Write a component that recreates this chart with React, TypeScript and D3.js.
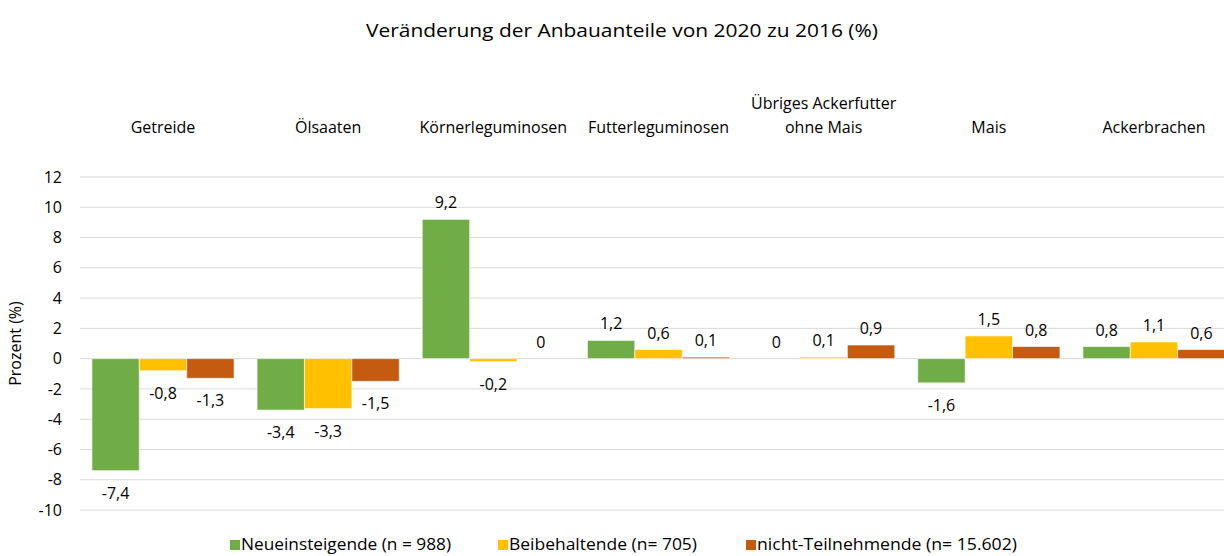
import React from "react";
import * as d3 from "d3";

const categories = ["Getreide", "Ölsaaten", "Körnerleguminosen", "Futterleguminosen", "Übriges Ackerfutter\nohne Mais", "Mais", "Ackerbrachen"];
const seriesNames = ["Neueinsteigende (n = 988)", "Beibehaltende (n= 705)", "nicht-Teilnehmende (n= 15.602)"];
const neueinsteigende = [-7.4, -3.4, 9.2, 1.2, 0, -1.6, 0.8];
const beibehaltende = [-0.8, -3.3, -0.2, 0.6, 0.1, 1.5, 1.1];
const nichtTeilnehmende = [-1.3, -1.5, 0, 0.1, 0.9, 0.8, 0.6];
const yTicks = [12, 10, 8, 6, 4, 2, 0, -2, -4, -6, -8, -10];
const colors = ["#70AD47", "#FFC000", "#C55A11"];

const W = 1224, H = 556;
const FONT = "'Open Sans', Lato, sans-serif";
const FS = 16;

export default function App() {
  const series = [neueinsteigende, beibehaltende, nichtTeilnehmende];
  const x0 = d3.scaleBand<string>().domain(categories).range([80.4, 80.4 + 7 * 165.17]).padding(0);
  const bw = x0.bandwidth();
  const x1 = d3.scaleBand<string>().domain(seriesNames).range([11.5, bw - 11.5]).padding(0);
  const y = d3.scaleLinear().domain([-10, 12]).range([510, 177]);
  const fmt = (v: number) => String(v).replace(".", ",");
  const legendX = [230, 498, 746];
  const legendW = [210, 188, 260];

  return (
    <svg width={W} height={H} style={{ position: "absolute", left: 0, top: 0, background: "#fff" }} fontFamily={FONT}>
      <text x={622} y={37} textAnchor="middle" fontSize={19} fill="#000" textLength={512} lengthAdjust="spacingAndGlyphs">Veränderung der Anbauanteile von 2020 zu 2016 (%)</text>
      {yTicks.map((t) => (
        <g key={t}>
          <line x1={80} x2={W} y1={y(t)} y2={y(t)} stroke="#d9d9d9" strokeWidth={1} />
          <text x={62} y={y(t)} dy="0.35em" textAnchor="end" fontSize={FS} fill="#000">{t}</text>
        </g>
      ))}
      <text transform={`translate(21,${y(1)}) rotate(-90)`} textAnchor="middle" fontSize={FS} fill="#000">Prozent (%)</text>
      {categories.map((c) => {
        const lines = c.split("\n");
        const cx = (x0(c) as number) + bw / 2;
        return (
          <text key={c} x={cx} textAnchor="middle" fontSize={FS} fill="#000">
            {lines.map((l, i) => (
              <tspan key={i} x={cx} y={133 - (lines.length - 1 - i) * 24}>{l}</tspan>
            ))}
          </text>
        );
      })}
      {series.map((vals, si) =>
        vals.map((v, ci) => {
          const bx = (x0(categories[ci]) as number) + (x1(seriesNames[si]) as number);
          const top = y(Math.max(0, v));
          const h = Math.abs(y(v) - y(0));
          const lx = bx + x1.bandwidth() / 2;
          const ly = v >= 0 ? y(v) - 11 : y(v) + 28;
          return (
            <g key={`${si}-${ci}`}>
              <rect x={bx} y={top} width={x1.bandwidth()} height={Math.max(h, 0)} fill={colors[si]} stroke="#fff" strokeOpacity={0.6} strokeWidth={1} />
              <text x={lx} y={ly} textAnchor="middle" fontSize={FS} fill="#000">{fmt(v)}</text>
            </g>
          );
        })
      )}
      {seriesNames.map((s, i) => {
        const lx = legendX[i];
        return (
          <g key={s}>
            <rect x={lx} y={540} width={10} height={10} fill={colors[i]} />
            <text x={lx + 11} y={550} fontSize={FS} fill="#000" textLength={legendW[i]} lengthAdjust="spacingAndGlyphs">{s}</text>
          </g>
        );
      })}
    </svg>
  );
}
